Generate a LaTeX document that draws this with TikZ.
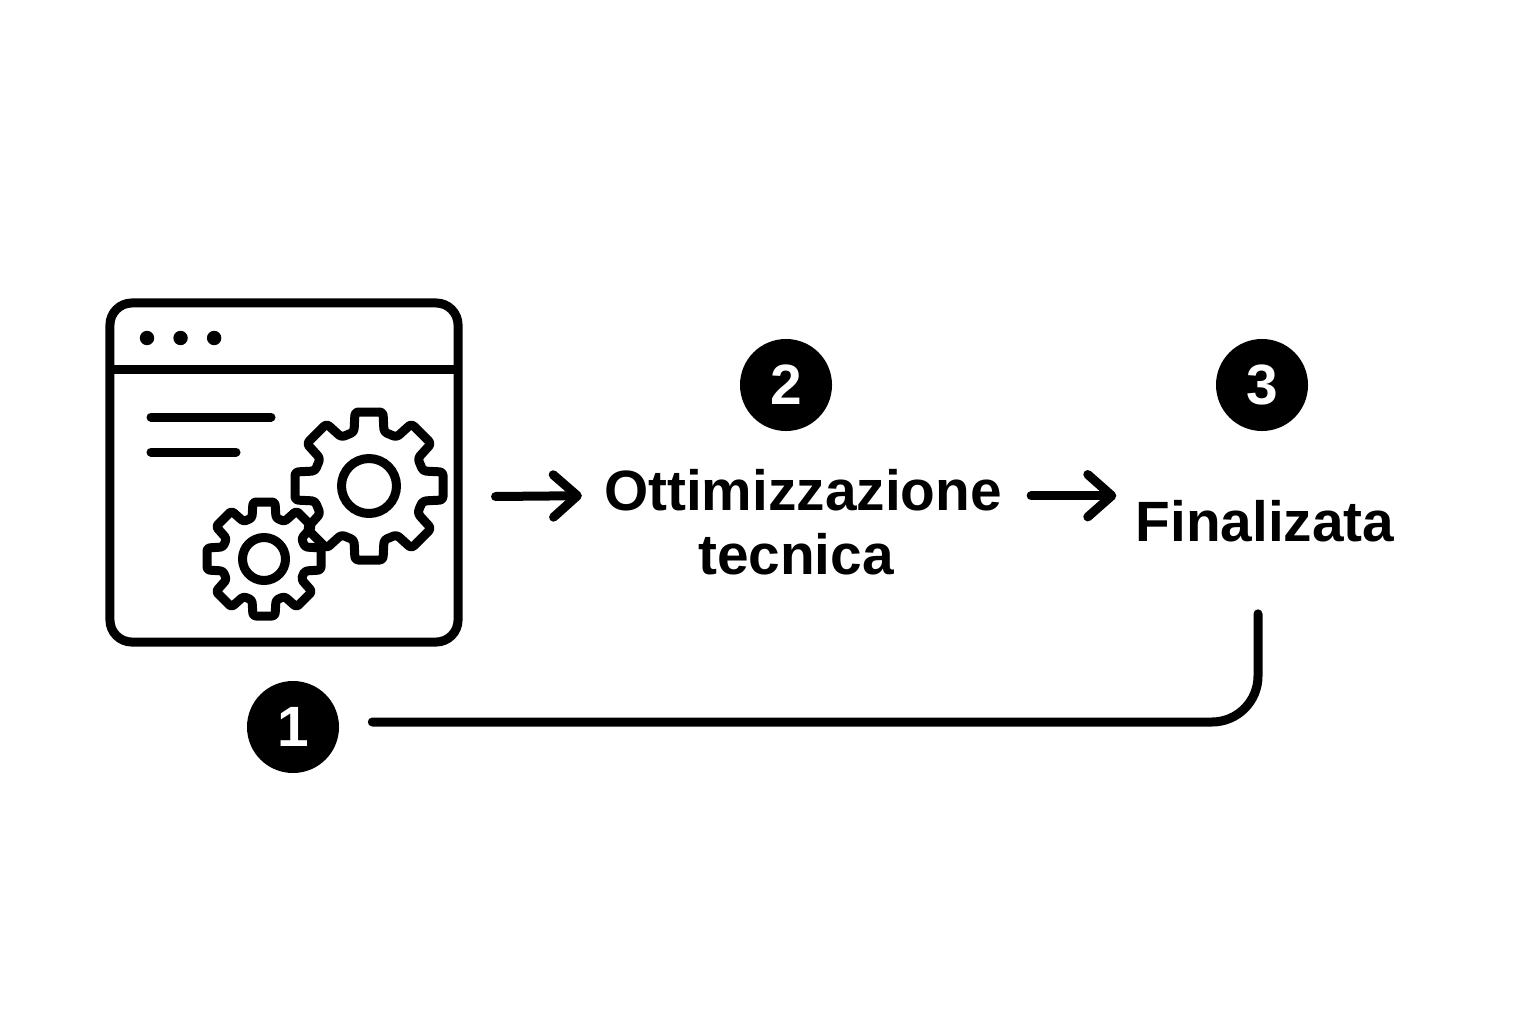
\documentclass[tikz,border=0pt]{standalone}
\usepackage{fontspec}
\setmainfont{Liberation Sans}
\usetikzlibrary{arrows.meta, positioning}

\begin{document}
\begin{tikzpicture}[
    x=0.025cm, y=-0.025cm,
    font=\fontsize{40.4}{48}\selectfont\bfseries,
    ink/.style={line width=0.225cm, line cap=round, line join=round},
    window/.style={rectangle, rounded corners=0.55cm, draw, ink,
                   minimum width=8.7cm, minimum height=8.475cm},
    badge/.style={circle, fill=black, text=white, minimum size=2.3cm, inner sep=0pt},
    label/.style={anchor=base, inner sep=0pt},
    dot/.style={circle, fill=black, minimum size=0.36cm, inner sep=0pt},
    arr/.style={ink, -{Straight Barb[length=0.6cm, width=1.06cm, line width=0.225cm, round]}},
  ]
    \useasboundingbox (0,0) rectangle (1536,1024);

    %% ── Window icon ──────────────────────────────────────────
    \node[window] (win) at (284,472.5) {};
    \draw[ink, line cap=butt, shorten <=0.15cm, shorten >=0.15cm] (win.west |- 0,369) -- (win.east |- 0,369);
    \node[dot] (d1) at (147,338) {};
    \node[dot] (d2) [right=0.465cm of d1] {};
    \node[dot] (d3) [right=0.465cm of d2] {};
    \draw[ink] (151,417) -- (271,417);
    \draw[ink] (151,452) -- (236,452);

    %% ── Gears ────────────────────────────────────────────────
    \draw[ink, rounded corners=0.08cm]
      ([shift={(369,486)}, rotate=-22.5]55,0) foreach \a in {0,45,...,315} {
        -- ([shift={(369,486)}, rotate=\a]54,15) -- ([shift={(369,486)}, rotate=\a]74,14)
        -- ([shift={(369,486)}, rotate=\a]74,-14) -- ([shift={(369,486)}, rotate=\a]54,-15)
      } -- cycle;
    \draw[ink] (369,486) circle (27.5);
    \draw[ink, rounded corners=0.07cm]
      ([shift={(264,559)}, rotate=-22.5]42,0) foreach \a in {0,45,...,315} {
        -- ([shift={(264,559)}, rotate=\a]41,12) -- ([shift={(264,559)}, rotate=\a]57,11)
        -- ([shift={(264,559)}, rotate=\a]57,-11) -- ([shift={(264,559)}, rotate=\a]41,-12)
      } -- cycle;
    \draw[ink] (264,559) circle (21.5);

    %% ── Labels ───────────────────────────────────────────────
    \node[badge] (b1) at (293,727) {1};
    \node[badge] (b2) at (786,385) {2};
    \node[badge] (b3) at (1262,385) {3};
    \node[label] (opt) at (803,510) {Ottimizzazione};
    \node[label] (tec) at (796,574) {tecnica};
    \node[label] (fin) at (1265,541) {Finalizata};

    %% ── Arrows ───────────────────────────────────────────────
    \draw[arr] ([shift={(33,24)}]win.east) -- ([shift={(-22,6)}]opt.west);
    \draw[arr] ([shift={(29,6)}]opt.east) -- ([shift={(-19,-25)}]fin.west);
    \draw[ink, rounded corners=1.15cm] ([shift={(-7,72)}]fin.south) |- ([shift={(33,-5)}]b1.east);

  \end{tikzpicture}
\end{document}
